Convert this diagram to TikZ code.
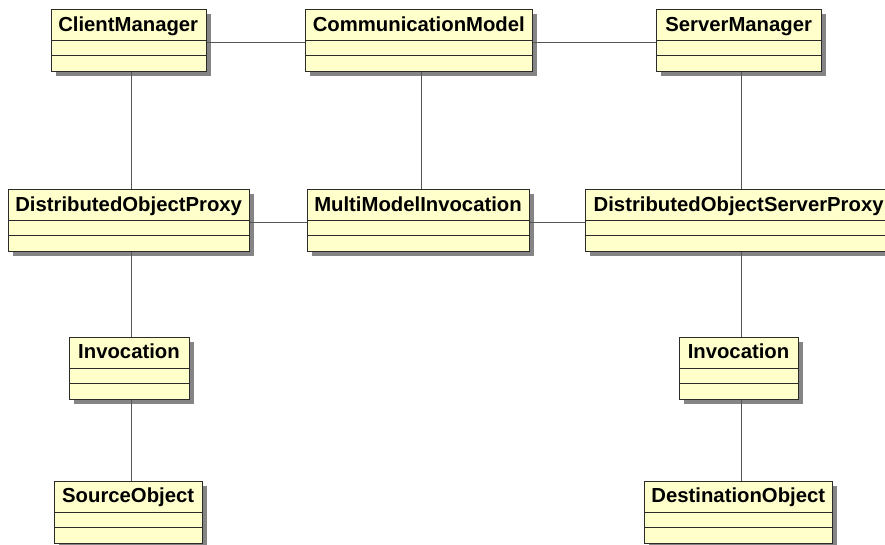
\documentclass[tikz,border=0pt]{standalone}
\usepackage{fontspec}
\setmainfont{Liberation Sans}
\usetikzlibrary{calc}
\definecolor{umlfill}{HTML}{FFFFCC}
\definecolor{umlshadow}{HTML}{858585}
\definecolor{umlline}{HTML}{2B2B2B}
\definecolor{connc}{HTML}{555555}
\tikzset{
  classbox/.style={draw=umlline, fill=umlfill, line width=0.9pt, inner sep=0pt, anchor=north west},
  classname/.style={font=\bfseries\fontsize{20.3}{21}\selectfont, anchor=base, inner sep=0pt},
  divider/.style={draw=umlline, line width=0.9pt},
  conn/.style={draw=connc, line width=0.9pt},
  shadowbox/.style={fill=umlshadow},
}
% #1 name, #2 left, #3 top, #4 right, #5 label
\newcommand\umlclass[5]{%
  \fill[shadowbox] (#2+5,#3+5) rectangle (#4+5,#3+67);
  \node[classbox, minimum width={#4-#2}, minimum height=62] (#1) at (#2,#3) {};
  \draw[divider] (#2,#3+31.5) -- (#4,#3+31.5);
  \draw[divider] (#2,#3+46.5) -- (#4,#3+46.5);
  \node[classname] (#1-name) at ({(#2+#4)/2},#3+22) {#5};
}
\begin{document}
\begin{tikzpicture}[x=1pt,y=-1pt]
\useasboundingbox (0,0) rectangle (885,544);
\fill[white] (0,0) rectangle (885,544);
\umlclass{cm}{50.7}{9}{205.7}{ClientManager}
\umlclass{com}{305.3}{9}{532.3}{CommunicationModel}
\umlclass{sm}{656.3}{9}{821}{ServerManager}
\umlclass{dop}{8.3}{189.3}{249}{DistributedObjectProxy}
\umlclass{mmi}{307.3}{189.3}{528.7}{MultiModelInvocation}
\umlclass{dosp}{585.3}{189.3}{892}{DistributedObjectServerProxy}
\umlclass{invl}{69.3}{336.7}{188.7}{Invocation}
\umlclass{invr}{679.3}{336.7}{797.7}{Invocation}
\umlclass{so}{54.3}{480.7}{202}{SourceObject}
\umlclass{dest}{644.3}{480.7}{832.3}{DestinationObject}
\coordinate (c1) at (131,0);
\coordinate (c2) at (421,0);
\coordinate (c3) at (741.7,0);
\coordinate (r1) at (0,42.7);
\coordinate (r2) at (0,222.7);
\draw[conn] (cm.east |- r1) -- (com.west |- r1);
\draw[conn] (com.east |- r1) -- (sm.west |- r1);
\draw[conn] (dop.east |- r2) -- (mmi.west |- r2);
\draw[conn] (mmi.east |- r2) -- (dosp.west |- r2);
\draw[conn] (cm.south -| c1) -- (dop.north -| c1);
\draw[conn] (com.south -| c2) -- (mmi.north -| c2);
\draw[conn] (sm.south -| c3) -- (dosp.north -| c3);
\draw[conn] (dop.south -| c1) -- (invl.north -| c1);
\draw[conn] (invl.south -| c1) -- (so.north -| c1);
\draw[conn] (dosp.south -| c3) -- (invr.north -| c3);
\draw[conn] (invr.south -| c3) -- (dest.north -| c3);
\end{tikzpicture}
\end{document}
